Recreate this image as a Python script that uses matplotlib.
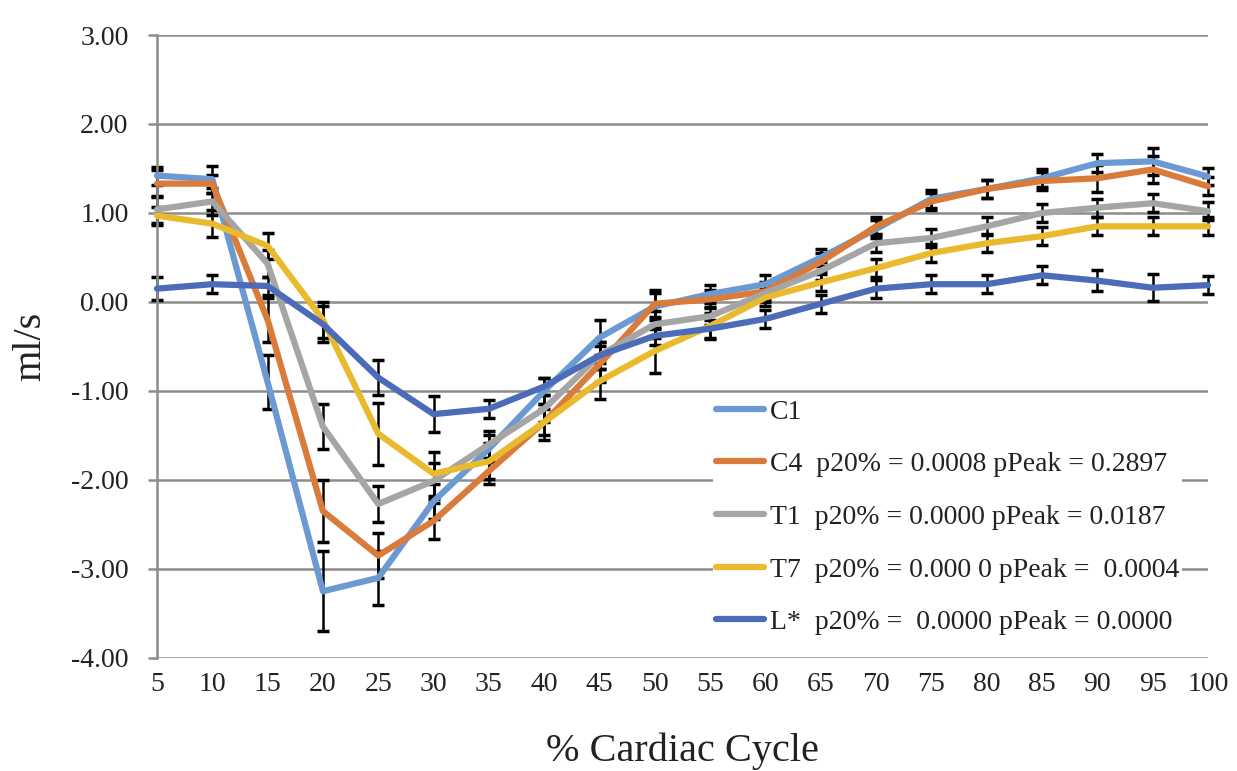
"""Flow rate over the cardiac cycle, per vertebral level."""
import matplotlib
matplotlib.use("Agg")
import matplotlib.pyplot as plt

cycle = [5, 10, 15, 20, 25, 30, 35, 40, 45, 50, 55, 60, 65, 70, 75, 80, 85, 90, 95, 100]

c1 = [1.42, 1.38, -0.90, -3.25, -3.10, -2.24, -1.65, -1.00, -0.40, -0.05, 0.09, 0.20,
      0.50, 0.82, 1.16, 1.27, 1.39, 1.56, 1.58, 1.41]
c4 = [1.33, 1.33, -0.20, -2.35, -2.85, -2.46, -1.90, -1.35, -0.70, -0.02, 0.03, 0.12,
      0.45, 0.85, 1.13, 1.27, 1.36, 1.39, 1.49, 1.30]
t1 = [1.04, 1.13, 0.43, -1.40, -2.27, -2.01, -1.60, -1.20, -0.60, -0.25, -0.16, 0.10,
      0.35, 0.66, 0.72, 0.85, 1.00, 1.06, 1.11, 1.02]
t7 = [0.97, 0.88, 0.63, -0.20, -1.48, -1.93, -1.79, -1.35, -0.89, -0.55, -0.27, 0.05,
      0.22, 0.38, 0.55, 0.66, 0.74, 0.85, 0.85, 0.85]
lstar = [0.15, 0.20, 0.18, -0.25, -0.85, -1.26, -1.20, -0.95, -0.60, -0.38, -0.30, -0.19,
         -0.02, 0.15, 0.20, 0.20, 0.30, 0.24, 0.16, 0.19]

c1_err = [0.10, 0.15, 0.30, 0.45, 0.30, 0.20, 0.15, 0.15, 0.20, 0.15, 0.10, 0.10,
          0.10, 0.10, 0.10, 0.10, 0.10, 0.10, 0.15, 0.10]
c4_err = [0.15, 0.10, 0.25, 0.35, 0.25, 0.20, 0.15, 0.15, 0.20, 0.15, 0.10, 0.10,
          0.10, 0.10, 0.10, 0.10, 0.10, 0.15, 0.15, 0.10]
t1_err = [0.15, 0.15, 0.15, 0.25, 0.20, 0.20, 0.15, 0.15, 0.15, 0.15, 0.10, 0.10,
          0.10, 0.10, 0.10, 0.10, 0.10, 0.10, 0.10, 0.10]
t7_err = [0.10, 0.15, 0.15, 0.20, 0.35, 0.25, 0.20, 0.20, 0.20, 0.25, 0.15, 0.10,
          0.10, 0.10, 0.10, 0.10, 0.10, 0.10, 0.10, 0.10]
lstar_err = [0.13, 0.10, 0.10, 0.20, 0.20, 0.20, 0.10, 0.10, 0.15, 0.10, 0.10, 0.10,
             0.10, 0.10, 0.10, 0.10, 0.10, 0.12, 0.15, 0.10]

labels = [
    "C1",
    "C4  p20% = 0.0008 pPeak = 0.2897",
    "T1  p20% = 0.0000 pPeak = 0.0187",
    "T7  p20% = 0.000 0 pPeak =  0.0004",
    "L*  p20% =  0.0000 pPeak = 0.0000",
]
colors = ["#6B9AD3", "#D97B3B", "#A5A5A5", "#E9BA2E", "#4C6CBA"]

plt.rcParams["font.family"] = ["Liberation Serif", "DejaVu Serif"]
grid_col = "#8C8C8C"
text_col = "#222222"

fig = plt.figure(figsize=(12.37, 7.71), dpi=100)
ax = fig.add_axes([0.1269, 0.1466, 0.8497, 0.808])

series = [(c1, c1_err), (c4, c4_err), (t1, t1_err), (t7, t7_err), (lstar, lstar_err)]
for (vals, err), col, lab in zip(series, colors, labels):
    eb = ax.errorbar(cycle, vals, yerr=err, fmt="none", ecolor="black", elinewidth=1.8,
                     capsize=4, capthick=2.5, zorder=2)
    for art in eb.lines[1] + eb.lines[2]:
        art.set_clip_on(False)
    ax.plot(cycle, vals, color=col, lw=4.5, label=lab, zorder=3, clip_on=False,
            solid_joinstyle="round", solid_capstyle="round")

ax.set_xlim(5, 100)
ax.set_ylim(-4, 3)
ax.set_xticks(cycle)
ax.set_xticklabels([str(c) for c in cycle])
yt = [3, 2, 1, 0, -1, -2, -3, -4]
ax.set_yticks(yt)
ax.set_yticklabels([f"{v:.2f}" for v in yt])

ax.grid(axis="y", color=grid_col, lw=1.8, zorder=0)
ax.set_axisbelow(True)
for side in ["top", "right", "bottom"]:
    ax.spines[side].set_visible(False)
ax.spines["left"].set_color(grid_col)
ax.spines["left"].set_linewidth(1.8)
ax.tick_params(axis="y", direction="out", length=6.5, width=1.8, color=grid_col,
               pad=14, labelsize=20, labelcolor=text_col)
ax.tick_params(axis="x", length=0, pad=10, labelsize=20, labelcolor=text_col)

ax.set_ylabel("ml/s", fontsize=29, color=text_col, labelpad=16)
ax.set_xlabel("% Cardiac Cycle", fontsize=29, color=text_col, labelpad=26)

leg = ax.legend(loc="upper left", bbox_to_anchor=(0.5764, 0.486), bbox_transform=fig.transFigure,
                frameon=True, framealpha=1, edgecolor="none", facecolor="white",
                fontsize=20, handlelength=1.75, handletextpad=0.2, labelspacing=0.98,
                borderpad=0.1, borderaxespad=0)
for t in leg.get_texts():
    t.set_color(text_col)

fig.savefig("out.png", dpi=100)
